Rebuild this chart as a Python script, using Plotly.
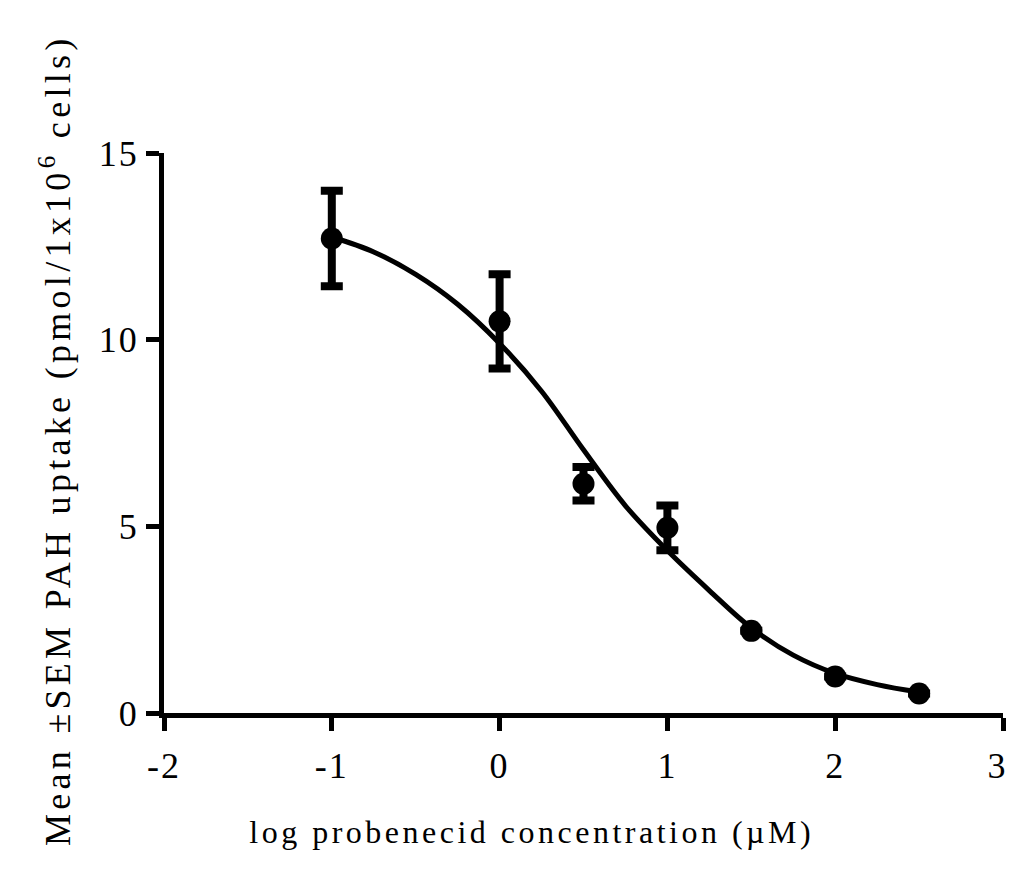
import plotly.graph_objects as go

# Measured uptake (mean ± SEM) at each log probenecid concentration
log_conc = [-1, 0, 0.5, 1, 1.5, 2, 2.5]
uptake_mean = [12.71, 10.49, 6.14, 4.96, 2.20, 0.98, 0.52]
uptake_sem = [1.28, 1.26, 0.45, 0.60, 0, 0, 0]

# Fitted inhibition curve, sampled along its length
fit_x = [-1, -0.75, -0.5, -0.25, 0, 0.25, 0.5, 0.75, 1, 1.25, 1.5, 1.75, 2, 2.25, 2.5]
fit_y = [12.75, 12.35, 11.75, 10.95, 9.9, 8.62, 7.05, 5.55, 4.35, 3.28,
         2.28, 1.55, 1.06, 0.76, 0.56]

x_ticks = [-2, -1, 0, 1, 2, 3]
x_tick_labels = ["-2", "-1", "0", "1", "2", "3\u00a0"]
y_ticks = [0, 5, 10, 15]

FONT = "Liberation Serif, Times New Roman, serif"

fig = go.Figure()

fig.add_trace(go.Scatter(
    x=fit_x, y=fit_y, mode="lines",
    line=dict(color="black", width=5, shape="spline", smoothing=1.0),
    hoverinfo="skip", showlegend=False,
))

fig.add_trace(go.Scatter(
    x=log_conc, y=uptake_mean, mode="markers",
    marker=dict(color="black", size=22),
    error_y=dict(type="data", array=uptake_sem, visible=True,
                 color="black", thickness=8, width=11),
    showlegend=False,
))

axis_common = dict(
    showline=True, linecolor="black", linewidth=5,
    ticks="outside", ticklen=13, tickwidth=5, tickcolor="black",
    showgrid=False, zeroline=False, ticklabeloverflow="allow",
    automargin=False,
    tickfont=dict(family=FONT, size=36, color="black"),
)

fig.update_layout(
    width=1009, height=876,
    margin=dict(l=164, r=6, t=153, b=163, autoexpand=False),
    paper_bgcolor="white", plot_bgcolor="white",
    xaxis=dict(range=[-2, 3], tickvals=x_ticks, ticklabelstandoff=4,
               ticktext=x_tick_labels, **axis_common),
    yaxis=dict(range=[0, 15], tickvals=y_ticks,
               ticktext=[str(v) for v in y_ticks], **axis_common),
    annotations=[
        dict(text="log probenecid concentration (µM)",
             xref="paper", yref="paper", x=0.438, y=-0.213,
             xanchor="center", yanchor="middle", showarrow=False,
             font=dict(family=FONT, size=32, color="black")),
        dict(text="Mean ±SEM PAH uptake (pmol/1x10<sup>6</sup> cells)",
             xref="paper", yref="paper", x=-0.13, y=0.487,
             xanchor="center", yanchor="middle", textangle=-90,
             showarrow=False,
             font=dict(family=FONT, size=36, color="black")),
    ],
)

# Wide letter spacing for the labels and titles
spacing_js = """
var s = document.createElement('style');
s.textContent =
  '.annotation[data-index="0"] .annotation-text{letter-spacing:3.5px}' +
  '.annotation[data-index="1"] .annotation-text{letter-spacing:4.3px}' +
  '.xtick text,.ytick text{letter-spacing:2px}';
document.head.appendChild(s);
"""

fig.write_html("out.html", post_script=spacing_js)
